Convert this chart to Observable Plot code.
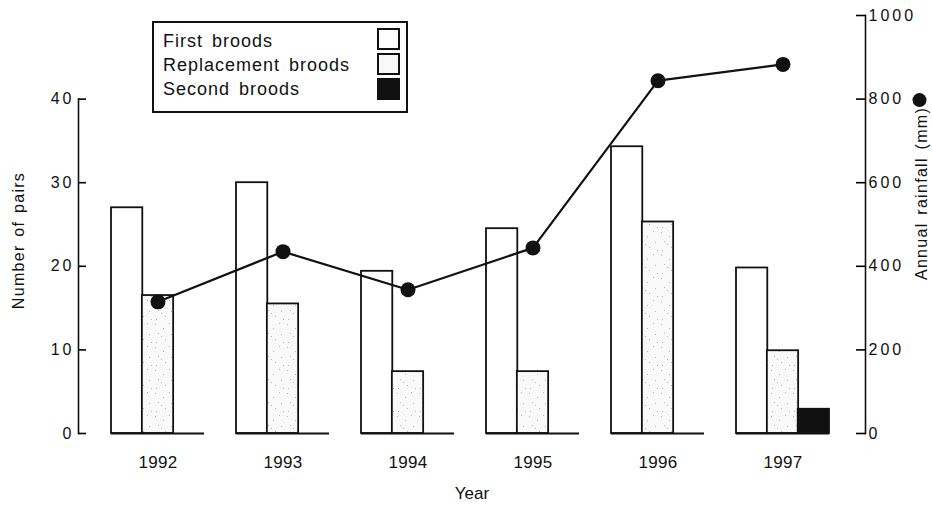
<!DOCTYPE html>
<html>
<head>
<meta charset="utf-8">
<script src="https://cdn.jsdelivr.net/npm/d3@7"></script>
<script src="https://cdn.jsdelivr.net/npm/@observablehq/plot@0.6"></script>
<style>
  html, body { margin: 0; padding: 0; background: #fff; }
  #wrap { position: relative; width: 932px; height: 513px; font-family: "Liberation Sans", Arial, sans-serif; }
  #wrap svg text { fill: #111; }
  #wrap svg [aria-label="y-axis tick label"] text { letter-spacing: 3px; }
  #wrap svg [aria-label="x-axis tick label"] text { letter-spacing: 0.3px; }
  .legend { position: absolute; left: 152px; top: 21px; width: 252px; height: 88px; border: 2px solid #111; background: #fff; }
  .legend .row { position: absolute; left: 9px; font-size: 18px; letter-spacing: 1px; word-spacing: 3px; color: #111; line-height: 20px; }
  .legend .sw { position: absolute; left: 223px; width: 19px; height: 18px; border: 2px solid #111; }
</style>
</head>
<body>
<div id="wrap"></div>
<script>
// ---- data ----
const years = ["1992", "1993", "1994", "1995", "1996", "1997"];
const firstBroods = [27.0, 30.0, 19.4, 24.5, 34.3, 19.8];
const replacementBroods = [16.5, 15.5, 7.4, 7.4, 25.3, 9.9];
const secondBroods = [null, null, null, null, null, 2.9];
const rainfall = [315, 435, 344, 444, 844, 883];
const pairTicks = [0, 10, 20, 30, 40];
const rainTicks = [0, 200, 400, 600, 800, 1000];
const seriesNames = ["First broods", "Replacement broods", "Second broods"];

const RAIN_PER_PAIR = 20; // 1000 mm on the right axis = 50 pairs on the left scale

const rows = years.map((year, i) => ({
  year,
  first: firstBroods[i],
  replacement: replacementBroods[i],
  second: secondBroods[i],
  rain: rainfall[i]
}));

// ---- layout ----
const W = 932, H = 513;
const mL = 78, mR = 67, mT = 15, mB = 80;
const xOpts = {type: "band", domain: years, range: [111, 829], paddingInner: 0.26, paddingOuter: 0};
const yOpts = {domain: [0, 50], range: [H - mB, mT]};
const xs = Plot.scale({x: xOpts});
const ys = Plot.scale({y: yOpts});
const slot = xs.bandwidth / 3;
const leftAxisInset = ys.apply(d3.max(pairTicks)) - mT;

const barStyle = {stroke: "#111", strokeWidth: 1.8};

const plot = Plot.plot({
  width: W,
  height: H,
  marginLeft: mL,
  marginRight: mR,
  marginTop: mT,
  marginBottom: mB,
  x: {...xOpts, axis: null},
  y: {...yOpts, axis: null},
  style: {fontFamily: "Liberation Sans, Arial, sans-serif", fontSize: "16px", background: "white", overflow: "visible"},
  marks: [
    // bars
    Plot.barY(rows, {x: "year", y: "first", fill: "white", ...barStyle, insetLeft: 0, insetRight: 2 * slot}),
    Plot.barY(rows, {x: "year", y: "replacement", fill: "url(#stipple)", ...barStyle, insetLeft: slot, insetRight: slot}),
    Plot.barY(rows.filter(d => d.second != null), {x: "year", y: "second", fill: "#111", ...barStyle, insetLeft: 2 * slot, insetRight: 0}),
    // baseline segments under each group
    Plot.tickY(rows, {x: "year", y: () => 0, stroke: "#111", strokeWidth: 1.8}),
    // rainfall line
    Plot.line(rows, {x: "year", y: d => d.rain / RAIN_PER_PAIR, stroke: "#111", strokeWidth: 2.2}),
    Plot.dot(rows, {x: "year", y: d => d.rain / RAIN_PER_PAIR, r: 7.5, fill: "#111"}),
    // axes
    Plot.frame({anchor: "left", insetTop: leftAxisInset, stroke: "#111", strokeWidth: 1.6}),
    Plot.frame({anchor: "right", stroke: "#111", strokeWidth: 1.6}),
    Plot.axisY({anchor: "left", ticks: pairTicks, tickSize: -8, tickPadding: 12, strokeWidth: 1.6, fontSize: 16, tickFormat: d => String(d)}),
    Plot.axisY({anchor: "right", ticks: rainTicks.map(r => r / RAIN_PER_PAIR), tickSize: -10, tickPadding: 13, strokeWidth: 1.6, fontSize: 16, tickFormat: d => String(d * RAIN_PER_PAIR)}),
    Plot.axisX({anchor: "bottom", tickSize: 0, tickPadding: 22, fontSize: 17, label: null}),
    // axis titles
    Plot.text(["Year"], {frameAnchor: "bottom", dy: 60, fontSize: 17, lineAnchor: "middle"}),
    Plot.text(["Number of pairs"], {frameAnchor: "left", textAnchor: "middle", dx: -60, dy: 16, rotate: -90, fontSize: 16, lineAnchor: "middle"}),
    Plot.text(["Annual rainfall (mm)"], {frameAnchor: "right", textAnchor: "middle", dx: 56, dy: -31, rotate: -90, fontSize: 16, lineAnchor: "middle"}),
    Plot.dot([rainTicks[4]], {frameAnchor: "right", x: null, y: d => d / RAIN_PER_PAIR, dx: 54, dy: 1, r: 7, fill: "#111"})
  ]
});

// stipple texture for replacement broods
const dots = [[1,2],[9,6],[15,1],[4,11],[17,12],[11,17],[2,20],[19,20],[7,14]];
const defs = d3.select(plot).insert("defs", ":first-child");
const pat = defs.append("pattern").attr("id", "stipple").attr("patternUnits", "userSpaceOnUse").attr("width", 22).attr("height", 23);
pat.append("rect").attr("width", 22).attr("height", 23).attr("fill", "#f9f9f9");
pat.selectAll("rect.d").data(dots).join("rect").attr("class", "d").attr("x", d => d[0]).attr("y", d => d[1]).attr("width", 1).attr("height", 1).attr("fill", "#b5b5b5");

// axis title letter spacing
d3.select(plot).selectAll("text").filter(function() { return ["Number of pairs", "Annual rainfall (mm)"].includes(this.textContent); }).style("letter-spacing", "1.3px").style("word-spacing", "2px");

const wrap = document.getElementById("wrap");
wrap.appendChild(plot);

// legend
const legend = document.createElement("div");
legend.className = "legend";
const fills = ["#fff", "#f9f9f9", "#111"];
seriesNames.forEach((name, i) => {
  const row = document.createElement("div");
  row.className = "row";
  row.style.top = (8 + i * 24) + "px";
  row.textContent = name;
  legend.appendChild(row);
  const sw = document.createElement("div");
  sw.className = "sw";
  sw.style.top = (5 + i * 25) + "px";
  sw.style.background = fills[i];
  legend.appendChild(sw);
});
wrap.appendChild(legend);
</script>
</body>
</html>
